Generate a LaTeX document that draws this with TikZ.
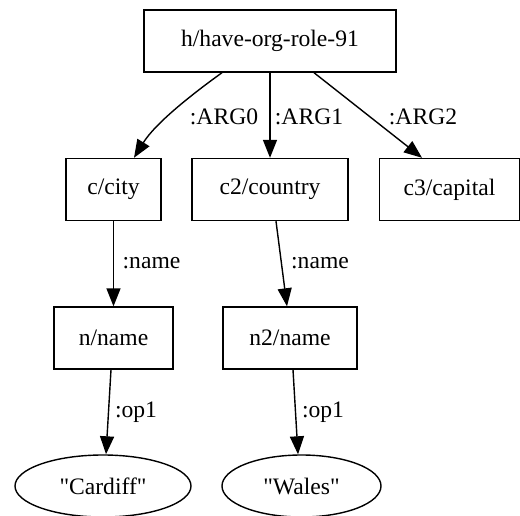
\documentclass[tikz,border=0pt]{standalone}
\usepackage{fontspec}
\newfontfamily\tfont{Liberation Serif}
\usetikzlibrary{shapes.geometric,arrows.meta}
\begin{document}
\begin{tikzpicture}[x=1pt,y=-1pt,
  every node/.style={font=\tfont\fontsize{23.6}{28}\selectfont},
  box/.style={draw,line width=1.4pt,rectangle,inner sep=0pt,minimum height=62pt},
  oval/.style={draw,line width=1.4pt,ellipse,inner sep=0pt,minimum height=62pt},
  edge/.style={line width=1.4pt,-{Triangle[length=18pt,width=14pt]}},
  lbl/.style={inner sep=0pt}]
\useasboundingbox (0,0) rectangle (520,516);
\node[box,minimum width=252pt] (h) at (270,41) {h/have-org-role-91};
\node[box,minimum width=95pt] (c) at (113.5,189.5) {c/city};
\node[box,minimum width=156pt] (c2) at (270,189.5) {c2/country};
\node[box,minimum width=140pt] (c3) at (449.5,189.5) {c3/capital};
\node[box,minimum width=119pt] (n) at (113.5,338) {n/name};
\node[box,minimum width=134pt] (n2) at (290,338) {n2/name};
\node[oval,minimum width=176pt] (ca) at (103,486) {"Cardiff"};
\node[oval,minimum width=159pt] (wa) at (301.5,486) {"Wales"};
\draw[edge] ([xshift=-48pt]h.south) .. controls +(-32,23) and +(21,-34) .. ([xshift=20.5pt]c.north);
\draw[edge] (h.south) -- (c2.north);
\draw[edge] ([xshift=44pt]h.south) -- ([xshift=-27.5pt]c3.north);
\draw[edge] (c.south) -- (n.north);
\draw[edge] ([xshift=6pt]c2.south) -- ([xshift=-3pt]n2.north);
\draw[edge] ([xshift=-2.5pt]n.south) -- ([xshift=3pt]ca.north);
\draw[edge] ([xshift=3pt]n2.south) -- ([xshift=-3.5pt]wa.north);
\node[lbl] (l0) at (224,117) {:ARG0};
\node[lbl] (l1) at (309,117) {:ARG1};
\node[lbl] (l2) at (423,117) {:ARG2};
\node[lbl] (l3) at (151.5,263) {:name};
\node[lbl] (l4) at (320,263) {:name};
\node[lbl] (l5) at (136,412) {:op1};
\node[lbl] (l6) at (323,412) {:op1};
\end{tikzpicture}
\end{document}
